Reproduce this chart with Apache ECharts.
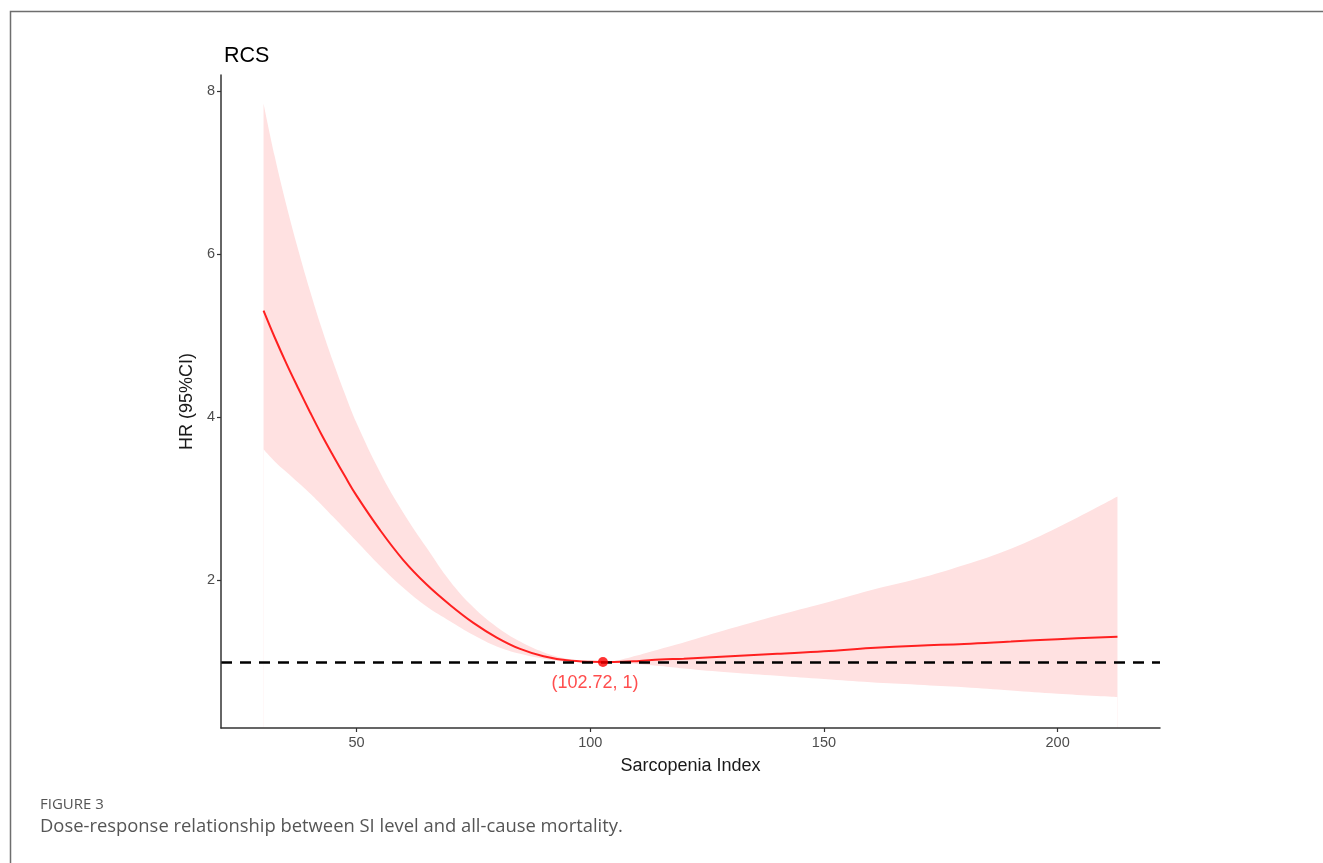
<!DOCTYPE html>
<html>
<head>
<meta charset="utf-8">
<script src="https://cdn.jsdelivr.net/npm/echarts@6/dist/echarts.min.js"></script>
<style>
html,body{margin:0;padding:0;background:#fff;}
#chart{width:1323px;height:863px;}
</style>
</head>
<body>
<div id="chart"></div>
<script>
// ---- data ----
const xs      = [30.1, 32.5, 35, 37.5, 40, 42.5, 45, 47.5, 50, 55, 60, 65, 70, 75, 80, 85, 90, 95, 100, 102.72, 105, 110, 115, 120, 130, 140, 150, 160, 170, 180, 190, 200, 212.8];
const hrEst   = [5.31, 4.98, 4.66, 4.36, 4.07, 3.79, 3.53, 3.28, 3.04, 2.62, 2.25, 1.95, 1.70, 1.48, 1.30, 1.16, 1.07, 1.02, 1.002, 1.00, 1.00, 1.01, 1.03, 1.04, 1.07, 1.10, 1.13, 1.17, 1.20, 1.22, 1.25, 1.28, 1.31];
const hrLower = [3.61, 3.46, 3.33, 3.20, 3.07, 2.93, 2.78, 2.63, 2.48, 2.18, 1.91, 1.68, 1.50, 1.33, 1.19, 1.10, 1.04, 1.005, 1.00, 1.00, 0.995, 0.975, 0.95, 0.92, 0.87, 0.83, 0.79, 0.75, 0.72, 0.69, 0.65, 0.61, 0.57];
const hrUpper = [7.85, 7.20, 6.60, 6.06, 5.56, 5.10, 4.68, 4.29, 3.93, 3.33, 2.83, 2.40, 1.99, 1.67, 1.43, 1.25, 1.12, 1.04, 1.005, 1.00, 1.01, 1.08, 1.16, 1.24, 1.41, 1.57, 1.72, 1.88, 2.02, 2.19, 2.39, 2.65, 3.03];
const refPoint = [102.72, 1];
const refLabel = '(102.72, 1)';
const xTicks = [50, 100, 150, 200];
const yTicks = [2, 4, 6, 8];
const xRange = [21.0, 221.9];
const yRange = [0.19, 8.2];

const chart = echarts.init(document.getElementById('chart'));
const estData = xs.map((x, i) => [x, hrEst[i]]);
const lowData = xs.map((x, i) => [x, hrLower[i]]);
const upData  = xs.map((x, i) => [x, hrUpper[i]]);

const option = {
  backgroundColor: '#ffffff',
  animation: false,
  title: {
    text: 'RCS',
    left: 219, top: 40,
    textStyle: { fontFamily: 'Liberation Sans', fontSize: 21.5, fontWeight: 'normal', color: '#000' }
  },
  grid: { left: 221, right: 163, top: 75, bottom: 135 },
  xAxis: {
    type: 'value', min: xRange[0], max: xRange[1], z: 10,
    name: 'Sarcopenia Index', nameLocation: 'middle', nameGap: 29,
    nameTextStyle: { fontFamily: 'Liberation Sans', fontSize: 18, color: '#1a1a1a' },
    axisLine: { show: true, onZero: false, lineStyle: { color: '#333', width: 1.5 } },
    axisTick: { show: true, length: 4, lineStyle: { color: '#333', width: 1.2 }, customValues: xTicks },
    axisLabel: { customValues: xTicks, margin: 7, fontFamily: 'Liberation Sans', fontSize: 14.5, color: '#4d4d4d' },
    splitLine: { show: false }
  },
  yAxis: {
    type: 'value', min: yRange[0], max: yRange[1], z: 10,
    name: 'HR (95%CI)', nameLocation: 'middle', nameGap: 22,
    nameTextStyle: { fontFamily: 'Liberation Sans', fontSize: 18, color: '#1a1a1a' },
    axisLine: { show: true, onZero: false, lineStyle: { color: '#333', width: 1.5 } },
    axisTick: { show: true, length: 4, lineStyle: { color: '#333', width: 1.2 }, customValues: yTicks },
    axisLabel: { customValues: yTicks, margin: 6, fontFamily: 'Liberation Sans', fontSize: 14.5, color: '#4d4d4d' },
    splitLine: { show: false }
  },
  graphic: [
    { type: 'rect', shape: { x: 10.5, y: 11.5, width: 1500, height: 1000 }, style: { fill: 'none', stroke: '#6e6e6e', lineWidth: 1.5 }, silent: true },
    { type: 'text', left: 40, top: 797, style: { text: 'FIGURE 3', font: '15px "Open Sans"', fill: '#555' } },
    { type: 'text', left: 40, top: 818, style: { text: 'Dose-response relationship between SI level and all-cause mortality.', font: '18.4px "Open Sans"', fill: '#555' } }
  ],
  series: [
    {
      // upper CI bound, filled pink down to the axis minimum
      type: 'line', name: 'upperCI', data: upData, smooth: 0.4,
      showSymbol: false, silent: true, z: 1,
      lineStyle: { opacity: 0 },
      areaStyle: { color: '#ffe1e1', opacity: 1, origin: 'start' }
    },
    {
      // lower CI bound, masks the pink below it with the background colour
      type: 'line', name: 'lowerCI', data: lowData, smooth: 0.4,
      showSymbol: false, silent: true, z: 2,
      lineStyle: { opacity: 0 },
      areaStyle: { color: '#ffffff', opacity: 1, origin: 'start' }
    },
    {
      type: 'line',
      name: 'HR',
      data: estData,
      smooth: 0.4,
      showSymbol: false,
      z: 3,
      lineStyle: { color: '#ff2020', width: 2 },
      markLine: {
        silent: true, symbol: 'none',
        lineStyle: { color: '#000', type: [11, 8], width: 2.5 },
        label: { show: false },
        data: [{ yAxis: 1 }]
      }
    },
    {
      type: 'scatter',
      name: 'ref',
      data: [refPoint],
      symbolSize: 10,
      z: 5,
      itemStyle: { color: '#ff0000' },
      label: {
        show: true, position: 'bottom', distance: 7, offset: [-8, 0],
        formatter: refLabel,
        fontFamily: 'Liberation Sans', fontSize: 18, color: '#ff2020'
      }
    }
  ]
};
chart.setOption(option);
</script>
</body>
</html>
